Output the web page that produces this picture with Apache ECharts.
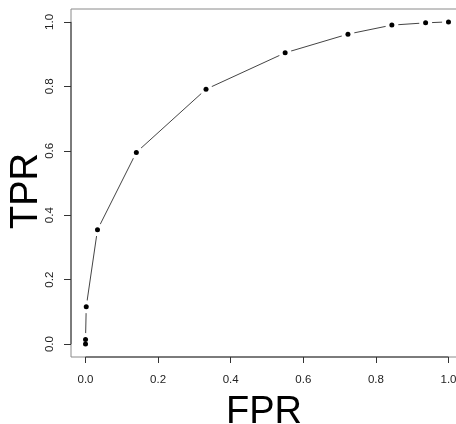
<!DOCTYPE html>
<html>
<head>
<meta charset="utf-8">
<script src="https://cdn.jsdelivr.net/npm/echarts@6/dist/echarts.min.js"></script>
<style>html,body{margin:0;padding:0;background:#fff}#c{width:456px;height:424px}</style>
</head>
<body>
<div id="c"></div>
<script>
var fpr = [0, 0, 0.002, 0.033, 0.14, 0.332, 0.55, 0.723, 0.844, 0.937, 1.0];
var tpr = [0, 0.014, 0.116, 0.355, 0.595, 0.791, 0.904, 0.962, 0.990, 0.997, 1.0];
var tickValues = [0, 0.2, 0.4, 0.6, 0.8, 1.0];
var xTitle = 'FPR';
var yTitle = 'TPR';

var pts = fpr.map(function (x, i) { return [x, tpr[i]]; });
var FONT = '"Liberation Sans", Arial, sans-serif';

var chart = echarts.init(document.getElementById('c'), null, {renderer: 'canvas'});
chart.setOption({
  animation: false,
  backgroundColor: '#fff',
  grid: {left: 71, top: 9, width: 392, height: 348, containLabel: false, outerBoundsMode: 'none',
    show: true, borderColor: '#8a8a8a', borderWidth: 1, backgroundColor: 'transparent'},
  xAxis: {
    type: 'value', min: -0.04, max: 1.04,
    splitLine: {show: false},
    axisLine: {show: false, onZero: false},
    axisTick: {show: true, customValues: tickValues, length: 6, inside: false, lineStyle: {color: '#333', width: 1}},
    axisLabel: {show: true, customValues: tickValues, margin: 17, fontFamily: FONT, fontSize: 11.5, color: '#222',
      hideOverlap: false, formatter: function (v) { return Number(v).toFixed(1); }}
  },
  yAxis: {
    type: 'value', min: -0.04, max: 1.04,
    splitLine: {show: false},
    axisLine: {show: false, onZero: false},
    axisTick: {show: true, customValues: tickValues, length: 7, inside: false, lineStyle: {color: '#333', width: 1}},
    axisLabel: {show: true, customValues: tickValues, rotate: 90, margin: 15, fontFamily: FONT, fontSize: 11.5, color: '#222',
      formatter: function (v) { return Number(v).toFixed(1); }}
  },
  series: [
    {type: 'line', data: [[0, -0.04], [1, -0.04]], showSymbol: false, silent: true, clip: false,
      lineStyle: {color: '#333', width: 1}, z: 3},
    {type: 'line', data: [[-0.04, 0], [-0.04, 1]], showSymbol: false, silent: true, clip: false,
      lineStyle: {color: '#333', width: 1}, z: 3},
    {type: 'line', data: pts, lineStyle: {color: '#444', width: 1}, showSymbol: false, silent: true, z: 4},
    {type: 'scatter', data: pts, symbol: 'circle', symbolSize: 13,
      itemStyle: {color: '#fff', opacity: 1}, silent: true, z: 5},
    {type: 'scatter', data: pts, symbol: 'circle', symbolSize: 5,
      itemStyle: {color: '#000', opacity: 1}, silent: true, z: 6}
  ],
  graphic: [
    {type: 'text', x: 264, y: 413, style: {text: xTitle, font: '38px ' + FONT, fill: '#000', align: 'center', verticalAlign: 'middle'}},
    {type: 'text', x: 26.5, y: 191, rotation: Math.PI / 2, style: {text: yTitle, font: '38px ' + FONT, fill: '#000', align: 'center', verticalAlign: 'middle'}}
  ]
});
</script>
</body>
</html>
